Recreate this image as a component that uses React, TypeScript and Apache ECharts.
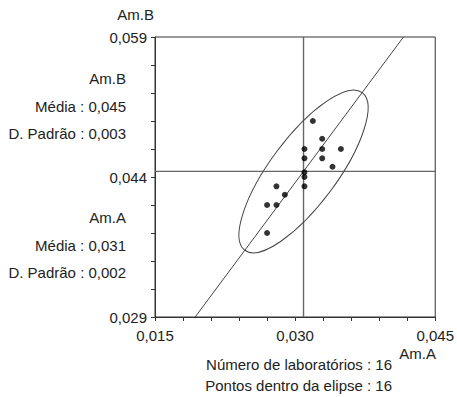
import React, { useEffect, useRef } from "react";
import * as echarts from "echarts";

// Scatter data (Am.A on x, Am.B on y), one pair per laboratory
const amA = [0.0319, 0.0329, 0.0310, 0.0329, 0.0349, 0.0310, 0.0329, 0.0340, 0.0310, 0.0310, 0.0310, 0.0280, 0.0289, 0.0270, 0.0280, 0.0270];
const amB = [0.0500, 0.0481, 0.0470, 0.0470, 0.0470, 0.0460, 0.0460, 0.0451, 0.0445, 0.0440, 0.0430, 0.0430, 0.0421, 0.0410, 0.0410, 0.0380];

// Mean cross-hair (drawn at the means)
const meanA = 0.0309;
const meanB = 0.0446;

// Diagonal line end points
const diagX = [0.0193, 0.0416];
const diagY = [0.029, 0.059];

// Ellipse: centre, end of major semi-axis, end of minor semi-axis (data units)
const ellipseCenter = [0.0309, 0.0446];
const ellipseMajorEnd = [0.03718, 0.05305];
const ellipseMinorEnd = [0.03376, 0.04246];

// Axis ranges, ticks and labels
const xRange = [0.015, 0.045];
const yRange = [0.029, 0.059];
const xTicks = [0.015, 0.018, 0.021, 0.024, 0.027, 0.030, 0.033, 0.036, 0.039, 0.042, 0.045];
const xLabels = [0.015, 0.030, 0.045];
const yTicks = [0.029, 0.032, 0.035, 0.038, 0.041, 0.044, 0.047, 0.050, 0.053, 0.056, 0.059];
const yLabels = [0.029, 0.044, 0.059];

// Summary statistics
const sampleNames = ["Am.B", "Am.A"];
const sampleMeans = [0.045, 0.031];
const sampleSDs = [0.003, 0.002];
const labCount = 16;
const pointsInside = 16;

const FONT = '"Liberation Sans", Arial, sans-serif';
const TXT = "#222";
const fmt = (v: number) => v.toFixed(3).replace(".", ",");

export default function App() {
  const ref = useRef<HTMLDivElement>(null);
  useEffect(() => {
    if (!ref.current) return;
    const chart = echarts.init(ref.current, null, { renderer: "svg" });
    const points = amA.map((a, i) => [a, amB[i]]);
    const txt = (text: string, x: number, y: number, align: string) => ({
      type: "text",
      style: { text, x, y, textAlign: align, textVerticalAlign: "middle", font: `15px ${FONT}`, fill: TXT },
    });
    const blockY = [[78, 106, 133], [217, 245, 272]];
    const graphics: any[] = [];
    sampleNames.forEach((n, i) => {
      graphics.push(txt(n, 126, blockY[i][0], "right"));
      graphics.push(txt("Média : " + fmt(sampleMeans[i]), 126, blockY[i][1], "right"));
      graphics.push(txt("D. Padrão : " + fmt(sampleSDs[i]), 126, blockY[i][2], "right"));
    });
    graphics.push(txt("Am.B", 154, 14, "right"));
    graphics.push(txt("Am.A", 436, 353, "right"));
    graphics.push(txt("Número de laboratórios : " + labCount, 392, 364, "right"));
    graphics.push(txt("Pontos dentro da elipse : " + pointsInside, 392, 385, "right"));

    const axisCommon = {
      type: "value",
      splitLine: { show: false },
      axisLine: { show: true, onZero: false, lineStyle: { color: "#333", width: 1 } },
      axisLabel: { color: TXT, fontSize: 15, fontFamily: FONT, formatter: fmt },
    };
    const crossStyle = { color: "#666", width: 1.4 };

    chart.setOption({
      animation: false,
      backgroundColor: "#fff",
      grid: { left: 155, top: 37, right: 21, bottom: 80, containLabel: false, show: true, borderColor: "#333", borderWidth: 1 },
      xAxis: {
        ...axisCommon,
        min: xRange[0],
        max: xRange[1],
        axisTick: { show: true, length: 4, customValues: xTicks, lineStyle: { color: "#333" } },
        axisLabel: { ...axisCommon.axisLabel, customValues: xLabels, margin: 11 },
      },
      yAxis: {
        ...axisCommon,
        min: yRange[0],
        max: yRange[1],
        axisTick: { show: true, length: 4, customValues: yTicks, lineStyle: { color: "#333" } },
        axisLabel: { ...axisCommon.axisLabel, customValues: yLabels, margin: 8 },
      },
      graphic: graphics,
      series: [
        {
          type: "line",
          data: [[meanA, yRange[0]], [meanA, yRange[1]]],
          symbol: "none",
          lineStyle: crossStyle,
          z: 1,
          silent: true,
        },
        {
          type: "line",
          data: [[xRange[0], meanB], [xRange[1], meanB]],
          symbol: "none",
          lineStyle: crossStyle,
          z: 1,
          silent: true,
        },
        {
          type: "line",
          data: diagX.map((x, i) => [x, diagY[i]]),
          symbol: "none",
          lineStyle: { color: "#444", width: 1 },
          z: 2,
          silent: true,
        },
        {
          type: "custom",
          data: [ellipseCenter],
          z: 2,
          silent: true,
          renderItem: (_p: any, api: any) => {
            const c = api.coord(ellipseCenter);
            const m = api.coord(ellipseMajorEnd);
            const n = api.coord(ellipseMinorEnd);
            const rx = Math.hypot(m[0] - c[0], m[1] - c[1]);
            const ry = Math.hypot(n[0] - c[0], n[1] - c[1]);
            return {
              type: "ellipse",
              x: c[0],
              y: c[1],
              rotation: Math.atan2(c[1] - m[1], m[0] - c[0]),
              shape: { cx: 0, cy: 0, rx, ry },
              style: { fill: "none", stroke: "#444", lineWidth: 1 },
            };
          },
        },
        {
          type: "scatter",
          data: points,
          symbol: "circle",
          symbolSize: 6,
          itemStyle: { color: "#000" },
          z: 5,
        },
      ],
    });
    return () => chart.dispose();
  }, []);
  return <div ref={ref} style={{ position: "fixed", left: 0, top: 0, width: 457, height: 397, background: "#fff" }} />;
}
